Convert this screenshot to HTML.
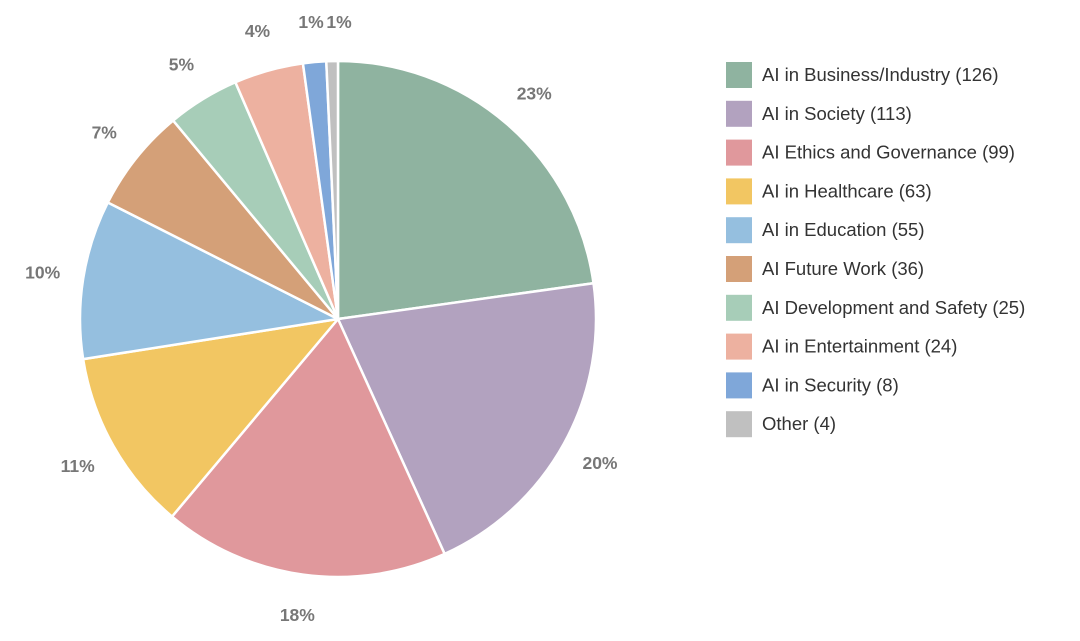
<!DOCTYPE html>
<html><head><meta charset="utf-8"><style>
html,body{margin:0;padding:0;background:#fff;width:1080px;height:641px;overflow:hidden}
svg{display:block}
text{font-family:"Liberation Sans",sans-serif}
</style></head><body>
<svg id="s" width="1080" height="641" viewBox="0 0 1080 641"></svg>
<script>
var d=[["AI in Business/Industry",126,"#8fb3a0"],["AI in Society",113,"#b2a2bf"],["AI Ethics and Governance",99,"#e0989c"],["AI in Healthcare",63,"#f2c662"],["AI in Education",55,"#95bfdf"],["AI Future Work",36,"#d4a078"],["AI Development and Safety",25,"#a7cdb8"],["AI in Entertainment",24,"#edb1a0"],["AI in Security",8,"#7fa7d9"],["Other",4,"#c0c0c0"]];
var tot=0;d.forEach(function(x){tot+=x[1]});
var cx=338,cy=319,r=258,a=0,h="";
function pt(ang,rad){return [cx+rad*Math.sin(ang),cy-rad*Math.cos(ang)];}
var lab="";
d.forEach(function(x,i){
 var s=a,e=a+x[1]/tot*2*Math.PI;a=e;
 var p1=pt(s,r),p2=pt(e,r),lg=(e-s)>Math.PI?1:0;
 h+='<path d="M'+cx+','+cy+' L'+p1[0]+','+p1[1]+' A'+r+','+r+' 0 '+lg+' 1 '+p2[0]+','+p2[1]+' Z" fill="'+x[2]+'" stroke="#fff" stroke-width="2.5"/>';
 var m=(s+e)/2,lr=299;
 var q=pt(m,lr);
 if(i==8)q=[311,22];if(i==9)q=[339,22];
 var pct=Math.round(x[1]/tot*100);
 lab+='<text x="'+q[0]+'" y="'+(q[1]+6)+'" text-anchor="middle" font-size="17.5" font-weight="bold" fill="#777">'+pct+'%</text>';
 var y=62+i*38.8;
 lab+='<rect x="726" y="'+y+'" width="26" height="26" fill="'+x[2]+'"/>';
 lab+='<text x="762" y="'+(y+19)+'" font-size="18.5" fill="#333">'+x[0]+' ('+x[1]+')</text>';
});
document.getElementById("s").innerHTML=h+lab;
</script>
</body></html>
